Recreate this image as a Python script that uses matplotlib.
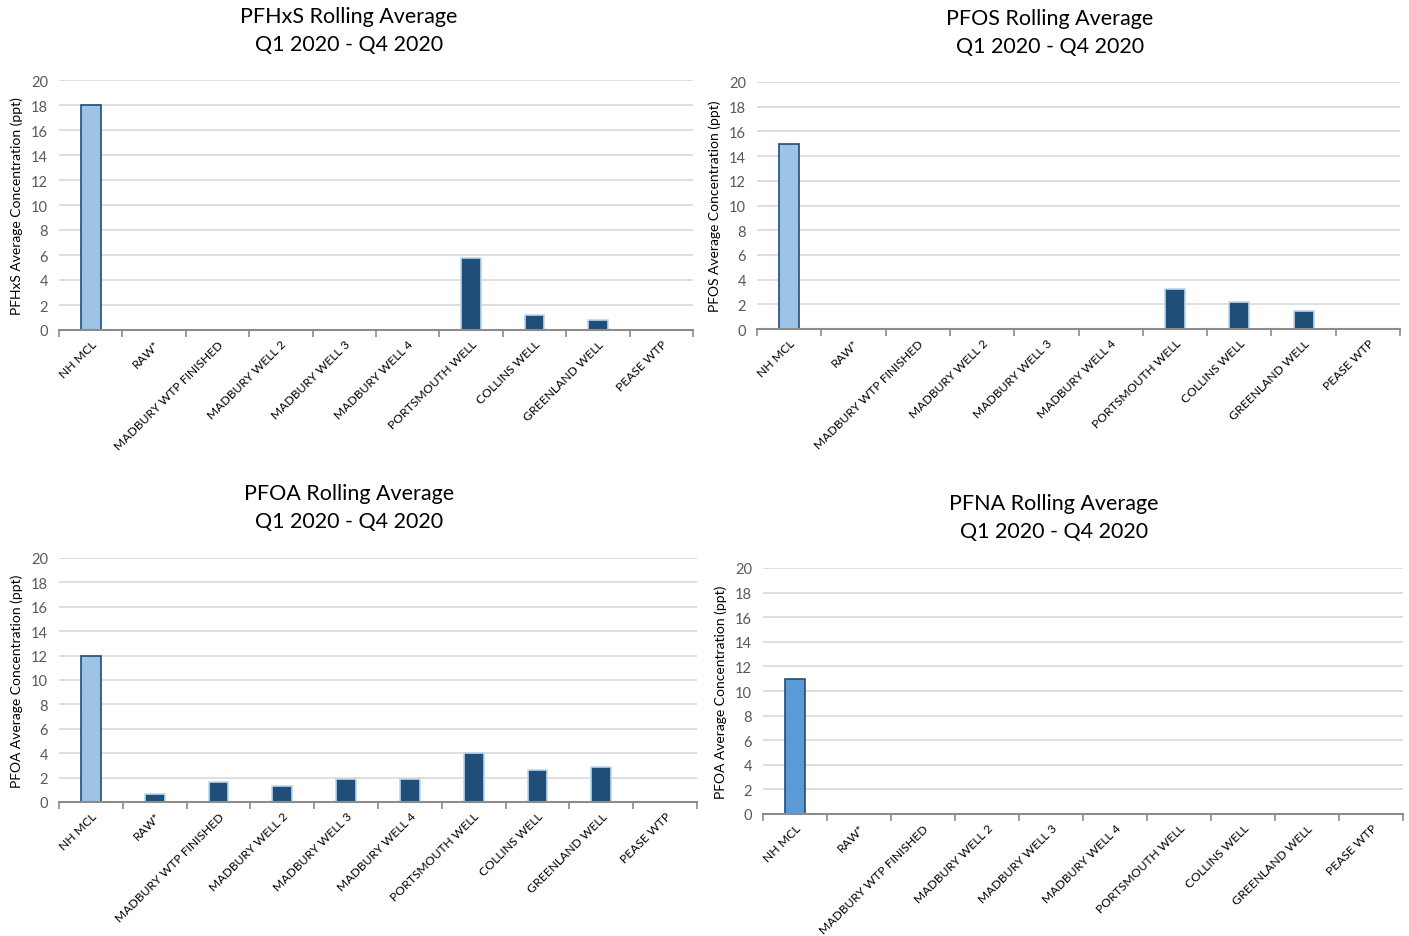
import matplotlib.pyplot as plt
import numpy as np

plt.rcParams['font.family'] = ['Lato', 'DejaVu Sans']

sites = ['NH MCL', 'RAW*', 'MADBURY WTP FINISHED', 'MADBURY WELL 2',
         'MADBURY WELL 3', 'MADBURY WELL 4', 'PORTSMOUTH WELL',
         'COLLINS WELL', 'GREENLAND WELL', 'PEASE WTP']

pfhxs = [18, 0, 0, 0, 0, 0, 5.8, 1.2, 0.8, 0]
pfos = [15, 0, 0, 0, 0, 0, 3.25, 2.15, 1.42, 0]
pfoa = [12, 0.68, 1.6, 1.33, 1.9, 1.9, 4.05, 2.64, 2.83, 0]
pfna = [11, 0, 0, 0, 0, 0, 0, 0, 0, 0]

titles = ['PFHxS Rolling Average\nQ1 2020 - Q4 2020',
          'PFOS Rolling Average\nQ1 2020 - Q4 2020',
          'PFOA Rolling Average\nQ1 2020 - Q4 2020',
          'PFNA Rolling Average\nQ1 2020 - Q4 2020']
ylabels = ['PFHxS Average Concentration (ppt)',
           'PFOS Average Concentration (ppt)',
           'PFOA Average Concentration (ppt)',
           'PFOA Average Concentration (ppt)']

W, H = 1409, 937
fig = plt.figure(figsize=(W / 100, H / 100), dpi=100)

# pixel boxes: left, right, top(20), bottom(0), title center x, title center y
boxes = [(59, 693, 81, 331, 349, 31),
         (757, 1400, 83, 330, 1050, 33),
         (59, 697, 559, 803, 349, 508),
         (763, 1403, 569, 815, 1054, 518)]

mcl_colors = ['#9DC3E6', '#9DC3E6', '#9DC3E6', '#5B9BD5']
data = [pfhxs, pfos, pfoa, pfna]

x = np.arange(len(sites))
for i in range(4):
    l, r, t, b, tx, ty = boxes[i]
    ax = fig.add_axes([l / W, 1 - b / H, (r - l) / W, (b - t) / H])
    vals = data[i]
    colors = [mcl_colors[i]] + ['#1F4E79'] * (len(sites) - 1)
    edges = ['#1F4E79'] + ['#BDD7EE'] * (len(sites) - 1)
    # no outline on empty bars so the baseline stays clean
    lw = [1.2 if v > 0 else 0 for v in vals]
    ax.bar(x, vals, width=0.31, color=colors, edgecolor=edges,
           linewidth=lw, zorder=3)
    ax.set_xlim(-0.5, len(sites) - 0.5)
    ax.set_ylim(0, 20)
    ax.set_yticks(range(0, 21, 2))
    ax.yaxis.grid(True, color='#D9D9D9', linewidth=1.2, zorder=0)
    for s in ['top', 'right', 'left']:
        ax.spines[s].set_visible(False)
    ax.spines['bottom'].set_color('#8C8C8C')
    ax.spines['bottom'].set_linewidth(1.5)
    ax.spines['bottom'].set_zorder(4)
    ax.tick_params(axis='y', length=0, labelsize=10.5, labelcolor='#595959', pad=8)
    # ticks between categories, labels at category centers
    ax.set_xticks(np.arange(-0.5, len(sites)), labels=[''] * (len(sites) + 1))
    ax.set_xticks(x, labels=sites, minor=True)
    ax.tick_params(axis='x', which='major', length=5, color='#8C8C8C', width=1.2)
    ax.tick_params(axis='x', which='minor', length=0, labelsize=8.7, pad=6)
    for lab in ax.get_xticklabels(minor=True):
        lab.set_rotation(45)
        lab.set_ha('right')
        lab.set_rotation_mode('anchor')
    ax.set_ylabel(ylabels[i], fontsize=10, labelpad=6)
    fig.text(tx / W, 1 - ty / H, titles[i], ha='center', va='center',
             fontsize=15.5, linespacing=1.5)

fig.savefig('out.png', dpi=100)
